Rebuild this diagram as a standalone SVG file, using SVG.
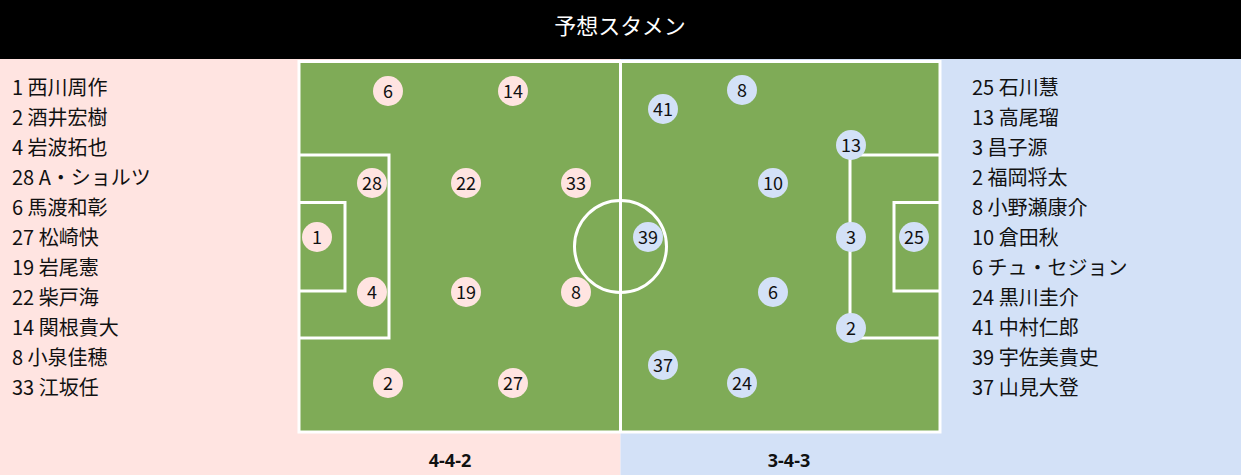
<svg xmlns="http://www.w3.org/2000/svg" width="1241" height="475" viewBox="0 0 1241 475">
<style>
.t{font-family:"Noto Sans CJK JP","Noto Sans",sans-serif;fill:#111;}
.list{font-size:20px;}
.num{font-size:18px;text-anchor:middle;}
.line{fill:none;stroke:#fff;stroke-width:3;}
.field{fill:#7FAB57;stroke:#fff;stroke-width:3;}
.home{fill:#FFE4E1;}
.away{fill:#D3E1F7;}
.lbl{font-family:"Noto Sans","Open Sans",sans-serif;font-size:18px;font-weight:bold;text-anchor:middle;fill:#111;}
</style>
<rect x="0" y="0" width="1241" height="59" fill="#000"/>
<text x="620" y="34" text-anchor="middle" class="t" style="fill:#fff;font-size:22px">予想スタメン</text>
<rect x="0" y="59" width="620.5" height="416" class="home"/>
<rect x="620.5" y="59" width="620.5" height="416" class="away"/>
<g id="pitch">
<rect x="299" y="61.5" width="641" height="370.5" class="field"/>
<line x1="620.5" y1="61.5" x2="620.5" y2="432" class="line"/>
<circle cx="620.5" cy="246.5" r="46" class="line"/>
<polyline points="299,155 389,155 389,338 299,338" class="line"/>
<polyline points="299,202.5 345,202.5 345,291 299,291" class="line"/>
<polyline points="940,155 850,155 850,338 940,338" class="line"/>
<polyline points="940,202.5 894,202.5 894,291 940,291" class="line"/>
</g>
<g id="home-list" class="t list">
<text x="12" y="95">1 西川周作</text>
<text x="12" y="125">2 酒井宏樹</text>
<text x="12" y="155">4 岩波拓也</text>
<text x="12" y="185">28 A・ショルツ</text>
<text x="12" y="215">6 馬渡和彰</text>
<text x="12" y="245">27 松崎快</text>
<text x="12" y="275">19 岩尾憲</text>
<text x="12" y="305">22 柴戸海</text>
<text x="12" y="335">14 関根貴大</text>
<text x="12" y="365">8 小泉佳穂</text>
<text x="12" y="395">33 江坂任</text>
</g>
<g id="away-list" class="t list">
<text x="972" y="95">25 石川慧</text>
<text x="972" y="125">13 高尾瑠</text>
<text x="972" y="155">3 昌子源</text>
<text x="972" y="185">2 福岡将太</text>
<text x="972" y="215">8 小野瀬康介</text>
<text x="972" y="245">10 倉田秋</text>
<text x="972" y="275">6 チュ・セジョン</text>
<text x="972" y="305">24 黒川圭介</text>
<text x="972" y="335">41 中村仁郎</text>
<text x="972" y="365">39 宇佐美貴史</text>
<text x="972" y="395">37 山見大登</text>
</g>
<g id="home-players">
<g id="h1"><circle cx="317" cy="237" r="15" class="home"/><text x="317" y="243.5" class="t num">1</text></g>
<g id="h28"><circle cx="372" cy="183" r="15" class="home"/><text x="372" y="189.5" class="t num">28</text></g>
<g id="h4"><circle cx="372" cy="292" r="15" class="home"/><text x="372" y="298.5" class="t num">4</text></g>
<g id="h6"><circle cx="388" cy="91" r="15" class="home"/><text x="388" y="97.5" class="t num">6</text></g>
<g id="h2"><circle cx="388" cy="383" r="15" class="home"/><text x="388" y="389.5" class="t num">2</text></g>
<g id="h22"><circle cx="466" cy="183" r="15" class="home"/><text x="466" y="189.5" class="t num">22</text></g>
<g id="h19"><circle cx="466" cy="292" r="15" class="home"/><text x="466" y="298.5" class="t num">19</text></g>
<g id="h14"><circle cx="513" cy="91" r="15" class="home"/><text x="513" y="97.5" class="t num">14</text></g>
<g id="h27"><circle cx="513" cy="383" r="15" class="home"/><text x="513" y="389.5" class="t num">27</text></g>
<g id="h33"><circle cx="576" cy="183" r="15" class="home"/><text x="576" y="189.5" class="t num">33</text></g>
<g id="h8"><circle cx="576" cy="292" r="15" class="home"/><text x="576" y="298.5" class="t num">8</text></g>
</g>
<g id="away-players">
<g id="a25"><circle cx="914" cy="237" r="15" class="away"/><text x="914" y="243.5" class="t num">25</text></g>
<g id="a13"><circle cx="851" cy="145" r="15" class="away"/><text x="851" y="151.5" class="t num">13</text></g>
<g id="a3"><circle cx="851" cy="237" r="15" class="away"/><text x="851" y="243.5" class="t num">3</text></g>
<g id="a2"><circle cx="851" cy="328" r="15" class="away"/><text x="851" y="334.5" class="t num">2</text></g>
<g id="a10"><circle cx="773" cy="183" r="15" class="away"/><text x="773" y="189.5" class="t num">10</text></g>
<g id="a6"><circle cx="773" cy="292" r="15" class="away"/><text x="773" y="298.5" class="t num">6</text></g>
<g id="a8"><circle cx="742" cy="90" r="15" class="away"/><text x="742" y="96.5" class="t num">8</text></g>
<g id="a24"><circle cx="742" cy="383" r="15" class="away"/><text x="742" y="389.5" class="t num">24</text></g>
<g id="a41"><circle cx="663" cy="109" r="15" class="away"/><text x="663" y="115.5" class="t num">41</text></g>
<g id="a37"><circle cx="663" cy="365" r="15" class="away"/><text x="663" y="371.5" class="t num">37</text></g>
<g id="a39"><circle cx="648" cy="237" r="15" class="away"/><text x="648" y="243.5" class="t num">39</text></g>
</g>
<g id="connectors"></g>
<text x="450" y="467" class="lbl">4-4-2</text>
<text x="789" y="467" class="lbl">3-4-3</text>
</svg>
